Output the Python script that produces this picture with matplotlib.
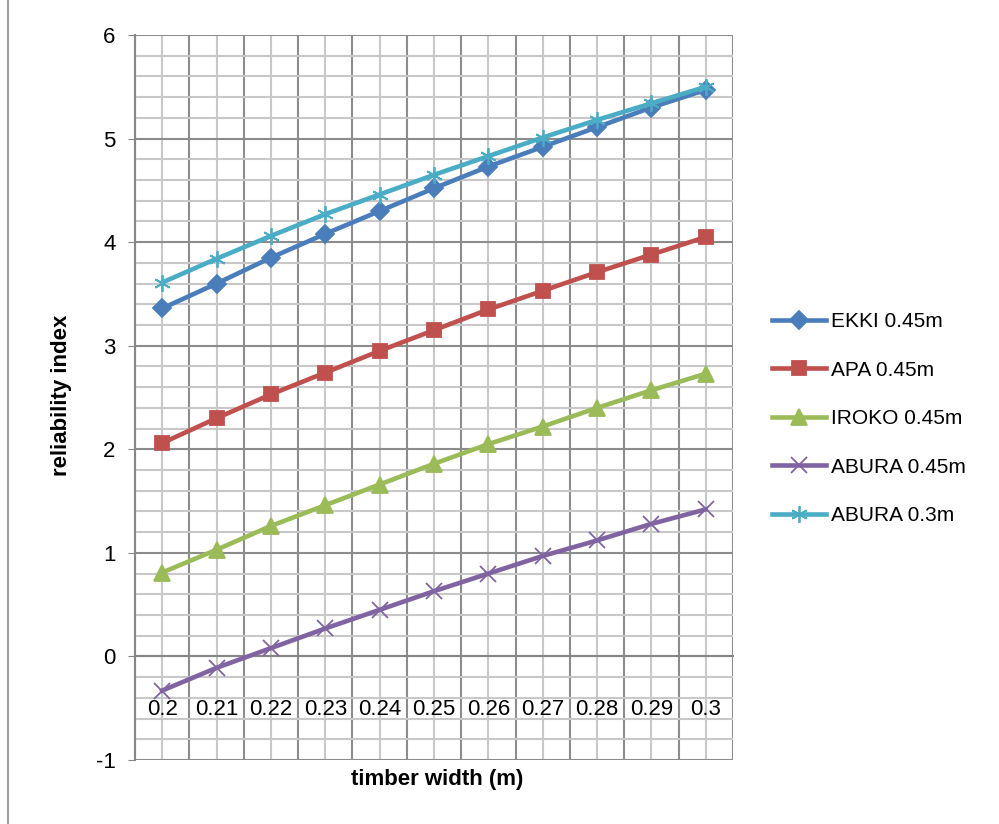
import numpy as np
import matplotlib
matplotlib.use("Agg")
import matplotlib.pyplot as plt
from matplotlib.lines import Line2D

plt.rcParams['font.family'] = ['Liberation Sans', 'DejaVu Sans']
plt.rcParams['axes.unicode_minus'] = False

# data
widths = ["0.2", "0.21", "0.22", "0.23", "0.24", "0.25", "0.26", "0.27", "0.28", "0.29", "0.3"]
ekki_045 = [3.36, 3.60, 3.85, 4.08, 4.30, 4.52, 4.73, 4.92, 5.11, 5.30, 5.47]
apa_045 = [2.06, 2.30, 2.53, 2.74, 2.95, 3.15, 3.35, 3.53, 3.71, 3.88, 4.05]
iroko_045 = [0.81, 1.03, 1.26, 1.46, 1.66, 1.86, 2.05, 2.22, 2.40, 2.57, 2.73]
abura_045 = [-0.33, -0.11, 0.08, 0.27, 0.45, 0.63, 0.80, 0.97, 1.12, 1.28, 1.42]
abura_03 = [3.61, 3.84, 4.06, 4.27, 4.46, 4.65, 4.83, 5.01, 5.18, 5.34, 5.50]

series = [
    ("EKKI 0.45m", ekki_045, "#4A7EBB", "D", 9.5),
    ("APA 0.45m", apa_045, "#C0504D", "s", 10),
    ("IROKO 0.45m", iroko_045, "#9BBB59", "^", 11),
    ("ABURA 0.45m", abura_045, "#8064A2", "x", 11),
    ("ABURA 0.3m", abura_03, "#4BACC6", (6, 2, 0), 12),
]

fig = plt.figure(figsize=(9.99, 8.24), dpi=100)
W, H = 999, 824
ax = fig.add_axes([135 / W, (H - 760) / H, (733 - 135) / W, (760 - 35) / H])

x = np.arange(len(widths))
for name, vals, col, mk, ms in series:
    ax.plot(x, vals, color=col, lw=3.3, marker=mk, ms=ms, mew=1.3,
            mec=col, mfc=col, label=name, zorder=5, clip_on=False)

ax.set_xlim(-0.5, len(widths) - 0.5)
ax.set_ylim(-1, 6)

# gridlines: dark at category boundaries / integers, light in between
ax.set_xticks(np.arange(-0.5, len(widths), 1))
ax.set_xticks(x, minor=True)
ax.set_xticklabels([], minor=False)
ax.set_xticklabels(widths, minor=True)
ax.set_yticks(range(-1, 7))
ax.set_yticks(np.arange(-1, 6.01, 0.2), minor=True)
ax.tick_params(axis='y', which='major', labelsize=16, length=5, color='#868686', pad=9)
ax.tick_params(axis='y', which='minor', length=0)
ax.tick_params(axis='x', which='both', length=0)
ax.tick_params(axis='x', which='minor', pad=31, labelsize=16)

ax.grid(which='major', color='#8C8C8C', lw=1.5)
ax.grid(which='minor', color='#C8C8C8', lw=1.5)
ax.set_axisbelow(True)

for s in ['top', 'right']:
    ax.spines[s].set_visible(False)
ax.spines['bottom'].set_position(('data', 0))
ax.spines['bottom'].set_color('#868686')
ax.spines['bottom'].set_linewidth(1.5)
ax.spines['left'].set_color('#868686')
ax.spines['left'].set_linewidth(1.5)

fig.text(62 / W, 1 - 395 / H, "reliability index", rotation=90, fontsize=16,
         fontweight='bold', ha='center', va='center')
fig.text(437 / W, 1 - 780 / H, "timber width (m)", fontsize=16,
         fontweight='bold', ha='center', va='center')

handles = [Line2D([], [], color=c, lw=3.3, marker=m, ms=s, mew=1.3, mec=c, mfc=c)
           for _, _, c, m, s in series]
fig.legend(handles, [s[0] for s in series], loc='upper left',
           bbox_to_anchor=(772 / W, 1 - 312 / H), frameon=False, fontsize=15,
           borderpad=0, borderaxespad=0, handlelength=2.6, handletextpad=0.25,
           labelspacing=1.42)

# chart area border on the left edge
fig.add_artist(Line2D([8 / W, 8 / W], [0, 1], color='#A0A0A0', lw=1.5))

fig.savefig("out.png", dpi=100)
